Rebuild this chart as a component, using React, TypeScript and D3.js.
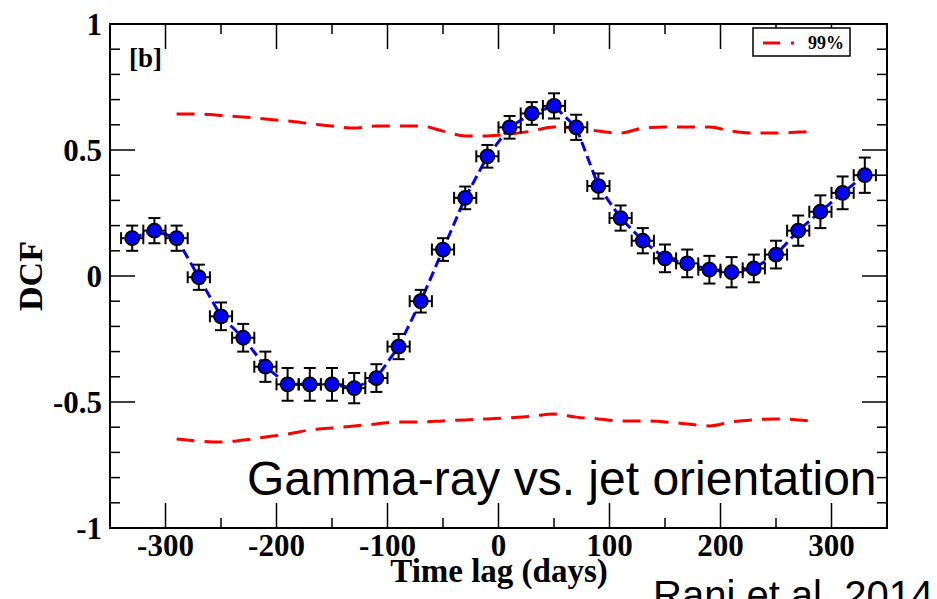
import React, { useEffect, useRef } from "react";
import * as d3 from "d3";

// DCF points (time lag in days, DCF value, error on DCF)
const lags = [-330, -310, -290, -270, -250, -230, -210, -190, -170, -150, -130, -110, -90, -70, -50, -30, -10,
  10, 30, 50, 70, 90, 110, 130, 150, 170, 190, 210, 230, 250, 270, 290, 310, 330];
const dcf = [0.15, 0.18, 0.15, -0.005, -0.16, -0.245, -0.36, -0.43, -0.43, -0.43, -0.445, -0.405, -0.28, -0.1, 0.105, 0.31, 0.475,
  0.59, 0.645, 0.675, 0.59, 0.357, 0.23, 0.14, 0.07, 0.05, 0.025, 0.015, 0.03, 0.085, 0.18, 0.255, 0.33, 0.4];
const dcfErr = [0.05, 0.05, 0.05, 0.05, 0.055, 0.055, 0.06, 0.065, 0.065, 0.065, 0.06, 0.055, 0.05, 0.045, 0.045, 0.045, 0.045,
  0.045, 0.045, 0.05, 0.05, 0.05, 0.05, 0.05, 0.055, 0.055, 0.055, 0.06, 0.055, 0.055, 0.06, 0.065, 0.065, 0.07];
const lagErr = 10;

// 99% significance levels
const sigLags = [-290, -270, -250, -230, -210, -190, -170, -150, -130, -110, -90, -70, -50, -30, -10,
  10, 30, 50, 70, 90, 110, 130, 150, 170, 190, 210, 230, 250, 270, 280];
const sigUpper = [0.643, 0.643, 0.637, 0.631, 0.623, 0.615, 0.605, 0.595, 0.587, 0.595, 0.595, 0.595, 0.575, 0.556, 0.556,
  0.563, 0.575, 0.591, 0.587, 0.575, 0.567, 0.587, 0.591, 0.591, 0.591, 0.575, 0.567, 0.567, 0.571, 0.573];
const sigLower = [-0.647, -0.655, -0.659, -0.651, -0.639, -0.627, -0.611, -0.603, -0.595, -0.587, -0.579, -0.579, -0.575, -0.571, -0.567,
  -0.563, -0.556, -0.548, -0.56, -0.567, -0.575, -0.575, -0.579, -0.587, -0.595, -0.579, -0.571, -0.567, -0.571, -0.575];

const xMajor = [-300, -200, -100, 0, 100, 200, 300];
const yMajor = [-1, -0.5, 0, 0.5, 1];
const yLabels = ["-1", "-0.5", "0", "0.5", "1"];

const serif = "'Liberation Serif', 'DejaVu Serif', serif";
const sans = "'Liberation Sans', Arial, sans-serif";

export default function App() {
  const ref = useRef<SVGSVGElement>(null);

  useEffect(() => {
    const svg = d3.select(ref.current);
    svg.selectAll("*").remove();

    const left = 110, right = 887, top = 24, bottom = 528;
    const x = d3.scaleLinear().domain([-350, 350]).range([left, right]);
    const y = d3.scaleLinear().domain([-1, 1]).range([bottom, top]);

    // frame
    svg.append("rect").attr("x", left).attr("y", top).attr("width", right - left).attr("height", bottom - top)
      .attr("fill", "none").attr("stroke", "#000").attr("stroke-width", 2);

    // ticks on all four sides
    const ticks = svg.append("g").attr("stroke", "#000").attr("stroke-width", 1.5);
    const xMinor = d3.range(-350, 351, 50).filter(v => !xMajor.includes(v) && v > -350 && v < 350);
    const yMinor = d3.range(-10, 11).map(v => v / 10).filter(v => Math.abs(v * 2 - Math.round(v * 2)) > 1e-6);
    xMajor.forEach(v => {
      ticks.append("line").attr("x1", x(v)).attr("x2", x(v)).attr("y1", bottom).attr("y2", bottom - 25);
      ticks.append("line").attr("x1", x(v)).attr("x2", x(v)).attr("y1", top).attr("y2", top + 25);
    });
    xMinor.forEach(v => {
      ticks.append("line").attr("x1", x(v)).attr("x2", x(v)).attr("y1", bottom).attr("y2", bottom - 10);
      ticks.append("line").attr("x1", x(v)).attr("x2", x(v)).attr("y1", top).attr("y2", top + 10);
    });
    yMajor.slice(1, -1).forEach(v => {
      ticks.append("line").attr("x1", left).attr("x2", left + 25).attr("y1", y(v)).attr("y2", y(v));
      ticks.append("line").attr("x1", right).attr("x2", right - 25).attr("y1", y(v)).attr("y2", y(v));
    });
    yMinor.forEach(v => {
      ticks.append("line").attr("x1", left).attr("x2", left + 10).attr("y1", y(v)).attr("y2", y(v));
      ticks.append("line").attr("x1", right).attr("x2", right - 10).attr("y1", y(v)).attr("y2", y(v));
    });

    // tick labels
    svg.append("g").selectAll("text").data(xMajor).join("text")
      .attr("x", d => x(d)).attr("y", 556).attr("text-anchor", "middle")
      .style("font-family", serif).style("font-weight", "bold").style("font-size", "31px")
      .text(d => String(d));
    svg.append("g").selectAll("text").data(yMajor).join("text")
      .attr("x", 102).attr("y", d => y(d)).attr("dy", "0.35em").attr("text-anchor", "end")
      .style("font-family", serif).style("font-weight", "bold").style("font-size", "31px")
      .text((d, i) => yLabels[i]);

    // axis titles
    svg.append("text").attr("x", 499).attr("y", 582).attr("text-anchor", "middle")
      .style("font-family", serif).style("font-weight", "bold").style("font-size", "33px")
      .text("Time lag (days)");
    svg.append("text").attr("transform", "translate(42,276) rotate(-90)").attr("text-anchor", "middle")
      .style("font-family", serif).style("font-weight", "bold").style("font-size", "34px")
      .text("DCF");

    svg.append("text").attr("x", 129).attr("y", 67)
      .style("font-family", serif).style("font-weight", "bold").style("font-size", "27px")
      .text("[b]");

    // significance lines
    const sigLine = d3.line<number>().x((d, i) => x(sigLags[i])).y(d => y(d)).curve(d3.curveMonotoneX);
    [sigUpper, sigLower].forEach(arr => {
      svg.append("path").attr("d", sigLine(arr)).attr("fill", "none").attr("stroke", "#ff0000")
        .attr("stroke-width", 3).attr("stroke-dasharray", "18,10");
    });

    // DCF connecting line
    const dcfLine = d3.line<number>().x((d, i) => x(lags[i])).y(d => y(d));
    svg.append("path").attr("d", dcfLine(dcf)).attr("fill", "none").attr("stroke", "#0000ff")
      .attr("stroke-width", 3).attr("stroke-dasharray", "10,5");

    // error bars
    const err = svg.append("g").attr("stroke", "#000").attr("stroke-width", 2);
    lags.forEach((lag, i) => {
      const cx = x(lag), cy = y(dcf[i]);
      const y0 = y(dcf[i] - dcfErr[i]), y1 = y(dcf[i] + dcfErr[i]);
      const x0 = x(lag - lagErr), x1 = x(lag + lagErr);
      err.append("line").attr("x1", cx).attr("x2", cx).attr("y1", y0).attr("y2", y1);
      err.append("line").attr("x1", cx - 6).attr("x2", cx + 6).attr("y1", y0).attr("y2", y0);
      err.append("line").attr("x1", cx - 6).attr("x2", cx + 6).attr("y1", y1).attr("y2", y1);
      err.append("line").attr("x1", x0).attr("x2", x1).attr("y1", cy).attr("y2", cy);
      err.append("line").attr("x1", x0).attr("x2", x0).attr("y1", cy - 6).attr("y2", cy + 6);
      err.append("line").attr("x1", x1).attr("x2", x1).attr("y1", cy - 6).attr("y2", cy + 6);
    });

    svg.append("g").selectAll("circle").data(dcf).join("circle")
      .attr("cx", (d, i) => x(lags[i])).attr("cy", d => y(d)).attr("r", 7)
      .attr("fill", "#0000ff").attr("stroke", "#000").attr("stroke-width", 1.8);

    // legend
    const lg = svg.append("g");
    lg.append("rect").attr("x", 753).attr("y", 28).attr("width", 97).attr("height", 28)
      .attr("fill", "#fff").attr("stroke", "#000").attr("stroke-width", 1.5);
    lg.append("line").attr("x1", 763).attr("x2", 780).attr("y1", 43).attr("y2", 43)
      .attr("stroke", "#ff0000").attr("stroke-width", 3);
    lg.append("line").attr("x1", 791).attr("x2", 794).attr("y1", 43).attr("y2", 43)
      .attr("stroke", "#ff0000").attr("stroke-width", 3);
    lg.append("text").attr("x", 808).attr("y", 49)
      .style("font-family", serif).style("font-weight", "bold").style("font-size", "18px")
      .text("99%");

    // annotations
    svg.append("text").attr("x", 247).attr("y", 495)
      .style("font-family", sans).style("font-size", "48px").attr("fill", "#000")
      .text("Gamma-ray vs. jet orientation");
    svg.append("text").attr("x", 653).attr("y", 609)
      .style("font-family", sans).style("font-size", "40px").attr("fill", "#000")
      .text("Rani et al. 2014");
  }, []);

  return (
    <svg ref={ref} width={937} height={599}
      style={{ position: "absolute", left: 0, top: 0, background: "#fff" }} />
  );
}
